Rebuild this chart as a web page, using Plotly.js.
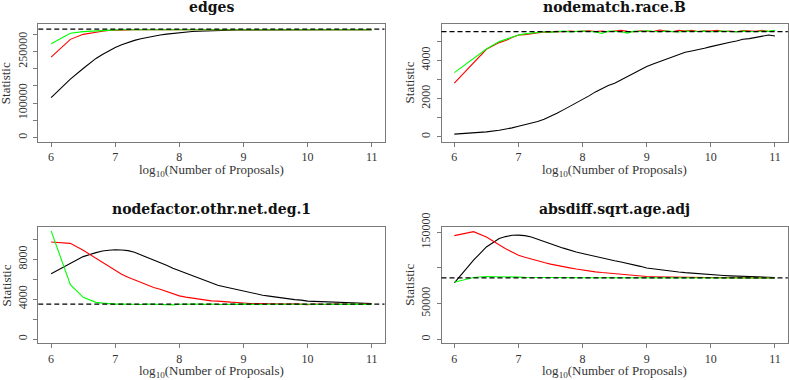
<!DOCTYPE html>
<html>
<head>
<meta charset="utf-8">
<script src="https://cdn.plot.ly/plotly-3.0.1.min.js"></script>
<style>
	html, body { margin: 0; padding: 0; background: #fff; }
	#chart { width: 789px; height: 380px; }
</style>
</head>
<body>
<div id="chart"></div>
<script>
const logProposals = [
	6.0, 6.3, 6.5, 6.7, 6.8, 6.9, 7.0, 7.1, 7.2, 7.3,
	7.4, 7.5, 7.6, 7.7, 7.8, 7.9, 8.0, 8.1, 8.2, 8.3,
	8.4, 8.5, 8.6, 8.7, 8.8, 8.9, 9.0, 9.1, 9.2, 9.3,
	9.4, 9.5, 9.6, 9.7, 9.8, 9.9, 10.0, 10.1, 10.2, 10.3,
	10.4, 10.5, 10.6, 10.7, 10.8, 10.9, 11.0,
]

const panelTitles = ['edges', 'nodematch.race.B', 'nodefactor.othr.net.deg.1', 'absdiff.sqrt.age.adj']
const targets = [315000, 5500, 3500, 86000]

const xTickVals = [6, 7, 8, 9, 10, 11]
const xTickText = ['6', '7', '8', '9', '10', '11']

const edgesTicks = [0, 50000, 100000, 150000, 200000, 250000, 300000]
const edgesTickText = ['0', '', '100000', '', '', '250000', '']
const raceTicks = [0, 1000, 2000, 3000, 4000, 5000]
const raceTickText = ['0', '', '2000', '', '4000', '']
const degTicks = [0, 2000, 4000, 6000, 8000, 10000]
const degTickText = ['0', '', '4000', '', '8000', '']
const ageTicks = [0, 50000, 100000, 150000]
const ageTickText = ['0', '50000', '', '150000']

const edgesBlack = [
	115900, 169500, 200700, 229900, 241600, 252300, 262000, 269800, 276600, 282500,
	287300, 291200, 295100, 298000, 300700, 303000, 305000, 306700, 308100, 309200,
	310100, 310800, 311400, 311900, 312300, 312600, 312800, 313000, 313100, 313200,
	313300, 313300, 313400, 313400, 313400, 313500, 313500, 313500, 313500, 313500,
	313500, 313500, 313500, 313500, 313500, 313500, 313500,
]
const edgesRed = [
	233800, 285400, 300000, 306800, 309200, 311000, 312200, 312800, 313100, 313300,
	313400, 313400, 313500, 313400, 313500, 313500, 313400, 313500, 313500, 313500,
	313400, 313500, 313500, 313500, 313500, 313400, 313500, 313500, 313500, 313500,
	313500, 313400, 313500, 313500, 313500, 313500, 313500, 313400, 313500, 313500,
	313500, 313500, 313500, 313500, 313400, 313500, 313500,
]
const edgesGreen = [
	272700, 303000, 307800, 310700, 311800, 312600, 313100, 313300, 313400, 313500,
	313500, 313500, 313500, 313600, 313500, 313500, 313500, 313500, 313600, 313500,
	313500, 313500, 313500, 313500, 313600, 313500, 313500, 313500, 313500, 313500,
	313500, 313600, 313500, 313500, 313500, 313500, 313500, 313500, 313600, 313500,
	313500, 313500, 313500, 313500, 313500, 313600, 313500,
]

const raceBlack = [
	140, 191, 261, 348, 400, 470, 557, 626, 713, 800,
	922, 1061, 1235, 1409, 1583, 1791, 1965, 2139, 2348, 2522,
	2678, 2800, 2974, 3150, 3357, 3496, 3670, 3809, 3930, 4052,
	4191, 4313, 4417, 4487, 4539, 4626, 4713, 4800, 4870, 4939,
	5009, 5096, 5130, 5200, 5270, 5322, 5270,
]
const raceRed = [
	2800, 3843, 4574, 4922, 5026, 5183, 5322, 5340, 5374, 5443,
	5480, 5470, 5510, 5490, 5530, 5500, 5520, 5540, 5500, 5530,
	5490, 5520, 5560, 5510, 5490, 5540, 5520, 5500, 5580, 5530,
	5490, 5560, 5520, 5570, 5500, 5540, 5530, 5560, 5500, 5520,
	5490, 5550, 5530, 5510, 5560, 5500, 5540,
]
const raceGreen = [
	3357, 4104, 4591, 4974, 5100, 5235, 5322, 5380, 5409, 5450,
	5490, 5470, 5500, 5520, 5480, 5510, 5530, 5500, 5480, 5400,
	5520, 5510, 5490, 5420, 5520, 5500, 5540, 5510, 5490, 5520,
	5500, 5480, 5530, 5510, 5500, 5520, 5490, 5510, 5530, 5500,
	5480, 5520, 5500, 5490, 5530, 5510, 5560,
]

const degBlack = [
	6560, 7600, 8270, 8670, 8830, 8900, 8960, 8930, 8870, 8700,
	8450, 8150, 7900, 7650, 7400, 7100, 6850, 6650, 6400, 6150,
	5900, 5650, 5400, 5250, 5100, 4950, 4780, 4630, 4500, 4400,
	4300, 4200, 4150, 4050, 3950, 3900, 3800, 3780, 3750, 3720,
	3680, 3700, 3650, 3660, 3620, 3600, 3570,
]
const degRed = [
	9740, 9600, 8900, 8100, 7770, 7330, 6900, 6500, 6200, 5930,
	5700, 5370, 5170, 5000, 4770, 4530, 4330, 4200, 4100, 4000,
	3930, 3830, 3800, 3730, 3700, 3670, 3600, 3570, 3560, 3540,
	3520, 3550, 3510, 3500, 3530, 3480, 3450, 3520, 3490, 3470,
	3510, 3480, 3500, 3490, 3510, 3470, 3490,
]
const degGreen = [
	10850, 5450, 4180, 3680, 3600, 3540, 3500, 3520, 3480, 3500,
	3470, 3510, 3490, 3460, 3500, 3430, 3490, 3510, 3470, 3500,
	3480, 3520, 3470, 3490, 3510, 3460, 3500, 3480, 3510, 3470,
	3490, 3500, 3460, 3510, 3480, 3470, 3500, 3490, 3460, 3510,
	3480, 3500, 3470, 3490, 3500, 3460, 3480,
]

const ageBlack = [
	79200, 110900, 129500, 141200, 144000, 145800, 146000, 145300, 143500, 140600,
	137500, 134200, 130900, 127800, 124900, 122400, 120200, 118000, 115900, 113900,
	112000, 110100, 108300, 106500, 104500, 102300, 100000, 98700, 97500, 96400,
	95400, 94400, 93500, 92700, 92000, 91300, 90600, 90000, 89500, 89000,
	88600, 88200, 87900, 87600, 87300, 87000, 86700,
]
const ageRed = [
	145400, 150900, 143500, 131800, 127000, 122500, 117900, 115000, 112300, 109800,
	107600, 105400, 103400, 101700, 100200, 98500, 96900, 95700, 94600, 93600,
	92700, 91800, 90900, 90100, 89500, 88700, 88100, 87800, 87600, 87300,
	87000, 86800, 86700, 86500, 86400, 86300, 86300, 86200, 86200, 86200,
	86100, 86100, 86100, 86100, 86000, 86000, 86000,
]
const ageGreen = [
	80100, 86700, 88100, 88100, 87900, 87600, 87200, 86900, 86700, 86600,
	86500, 86400, 86400, 86300, 86300, 86200, 86200, 86200, 86100, 86200,
	86100, 86100, 86200, 86100, 86100, 86100, 86000, 86100, 86100, 86000,
	86100, 86000, 86000, 86100, 86000, 86000, 86000, 86000, 86000, 86000,
	86000, 86000, 86000, 86000, 86000, 86000, 86000,
]

const W = 789
const H = 380
const px = (x) => x / W
const py = (y) => 1 - y / H

const boxColor = '#7a7a7a'
const serif = 'Liberation Serif'

// pixel boxes of the four panels: left, right, top, bottom
const boxes = [
	[38.3, 384.5, 24.3, 141.5],
	[441.5, 787.8, 24.3, 141.5],
	[38.3, 384.5, 227, 343.3],
	[441.5, 787.8, 227, 343.3],
]

const series = [
	[edgesBlack, edgesRed, edgesGreen],
	[raceBlack, raceRed, raceGreen],
	[degBlack, degRed, degGreen],
	[ageBlack, ageRed, ageGreen],
]
const yTicks = [
	[edgesTicks, edgesTickText, [-11700, 329200]],
	[raceTicks, raceTickText, [-243, 5878]],
	[degTicks, degTickText, [-430, 11240]],
	[ageTicks, ageTickText, [-5590, 157450]],
]
const lineColors = ['#000000', '#ff0000', '#00ff00']

function baseAxis() {
	return {
		showline: true,
		mirror: true,
		linecolor: boxColor,
		linewidth: 1,
		ticks: 'outside',
		ticklen: 4,
		tickcolor: boxColor,
		tickwidth: 1,
		showgrid: false,
		zeroline: false,
		fixedrange: true,
		tickfont: { family: serif, size: 12, color: '#333' },
	}
}

function buildChart() {
	const traces = []
	const layout = {
		width: W,
		height: H,
		margin: { l: 0, r: 0, t: 0, b: 0 },
		paper_bgcolor: '#fff',
		plot_bgcolor: '#fff',
		showlegend: false,
		shapes: [],
		annotations: [],
	}

	boxes.forEach((box, i) => {
		const n = i === 0 ? '' : String(i + 1)
		const [left, right, top, bottom] = box

		series[i].forEach((ys, k) => {
			traces.push({
				x: logProposals,
				y: ys,
				type: 'scatter',
				mode: 'lines',
				line: { color: lineColors[k], width: 1.1 },
				xaxis: 'x' + n,
				yaxis: 'y' + n,
				hoverinfo: 'skip',
			})
		})

		layout['xaxis' + n] = Object.assign(baseAxis(), {
			domain: [px(left), px(right)],
			anchor: 'y' + n,
			range: [5.8, 11.2],
			tickvals: xTickVals,
			ticktext: xTickText,
		})
		layout['yaxis' + n] = Object.assign(baseAxis(), {
			domain: [py(bottom), py(top)],
			anchor: 'x' + n,
			range: yTicks[i][2],
			tickvals: yTicks[i][0],
			ticktext: yTicks[i][1],
			tickangle: -90,
			ticklabelstandoff: 2,
		})

		layout.shapes.push({
			type: 'line',
			xref: 'x' + n + ' domain',
			yref: 'y' + n,
			x0: 0,
			x1: 1,
			y0: targets[i],
			y1: targets[i],
			line: { color: '#000', width: 1.2, dash: '5px,3px' },
		})

		const cx = (left + right) / 2
		layout.annotations.push(
			{
				text: '<b>' + panelTitles[i] + '</b>',
				xref: 'paper',
				yref: 'paper',
				x: px(cx),
				y: py(top - 17.6),
				xanchor: 'center',
				yanchor: 'middle',
				showarrow: false,
				font: { family: 'DejaVu Serif', size: 14, color: '#111' },
			},
			{
				text: 'log<sub>10</sub>(Number of Proposals)',
				xref: 'paper',
				yref: 'paper',
				x: px(cx),
				y: py(bottom + 28.5),
				xanchor: 'center',
				yanchor: 'middle',
				showarrow: false,
				font: { family: serif, size: 13, color: '#333' },
			},
			{
				text: 'Statistic',
				xref: 'paper',
				yref: 'paper',
				x: px(left - 32),
				y: py((top + bottom) / 2),
				xanchor: 'center',
				yanchor: 'middle',
				textangle: -90,
				showarrow: false,
				font: { family: serif, size: 13, color: '#333' },
			},
		)
	})

	Plotly.newPlot('chart', traces, layout, { displayModeBar: false, staticPlot: true })
}

window.onload = buildChart
</script>
</body>
</html>
